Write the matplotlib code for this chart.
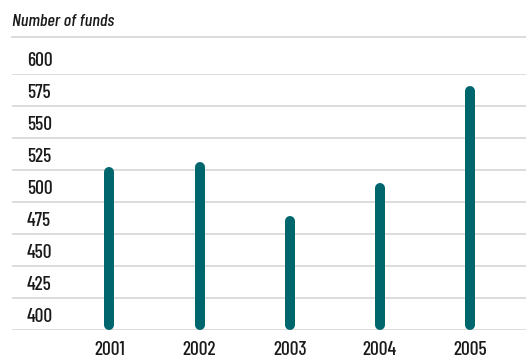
import matplotlib
matplotlib.use("Agg")
import matplotlib.pyplot as plt

years = ["2001", "2002", "2003", "2004", "2005"]
funds = [527, 531, 489, 515, 591]
y_ticks = [400, 425, 450, 475, 500, 525, 550, 575, 600]

teal = "#00666e"
grid_color = "#d9d9d9"
font = ["Barlow Condensed", "TeX Gyre Heros Cn", "DejaVu Sans"]
fs = 14

fig = plt.figure(figsize=(5.26, 3.6), dpi=100)
W, H = 526, 360
ax = fig.add_axes([12 / W, (H - 330) / H, (W - 12) / W, (330 - 74) / H])
ax.set_xlim(-1.08, 4.62)
ax.set_ylim(400, 600)
ax.axis("off")

# horizontal grid
for v in y_ticks:
    ax.axhline(v, color=grid_color, lw=1.3, zorder=1)
    ax.annotate(str(v), xy=(0, v), xycoords=("axes fraction", "data"),
                xytext=(15, 13), textcoords="offset pixels",
                ha="left", va="center", fontsize=fs, family=font,
                weight=500, color="#1a1a1a")

# separator line under the title
fig.add_artist(plt.Line2D([12 / W, 1], [(H - 37) / H] * 2,
                          color=grid_color, lw=1.3))
fig.text(12 / W, (H - 21) / H, "Number of funds", fontsize=13,
         style="italic", family=font, weight=500, color="#1a1a1a",
         va="center")

# rounded bars, inset by the cap radius so the ends sit on the values
lw_px = 10
px_per_unit = (330 - 74) / (600 - 400)
r = (lw_px / 2) / px_per_unit
for i, v in enumerate(funds):
    ax.plot([i, i], [400 + r, v - r], color=teal, lw=lw_px * 0.72,
            solid_capstyle="round", zorder=3, clip_on=False)
    ax.annotate(years[i], xy=(i, 400), xycoords="data",
                xytext=(0, -20), textcoords="offset pixels",
                ha="center", va="center", fontsize=fs, family=font,
                weight=500, color="#1a1a1a")

fig.savefig("out.png", dpi=100)
